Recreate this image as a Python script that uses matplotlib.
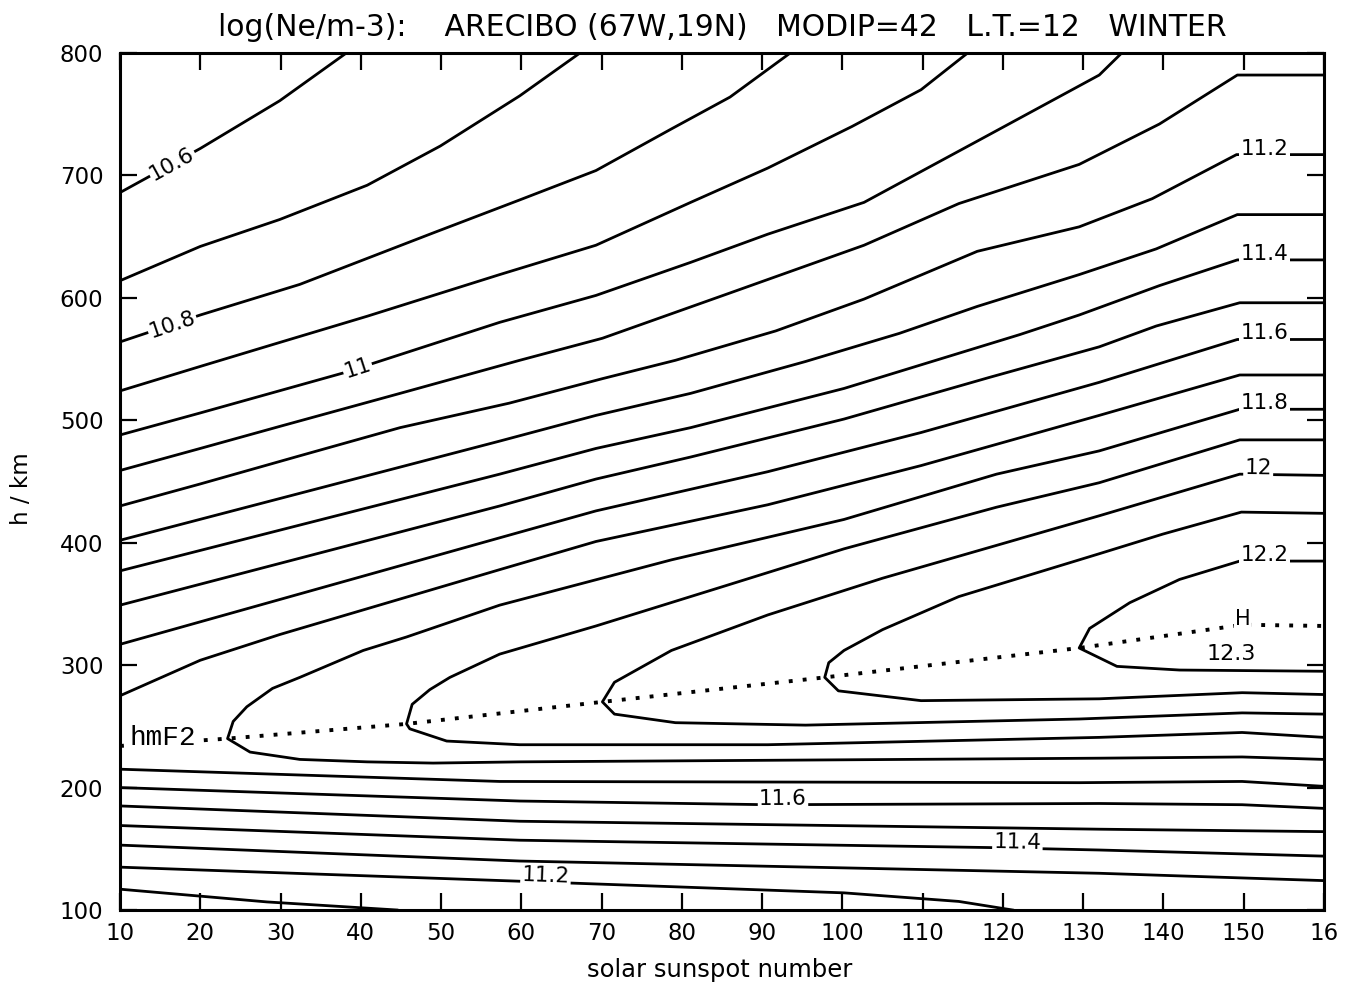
import matplotlib
matplotlib.use("Agg")
import matplotlib.pyplot as plt
import numpy as np

# Isolines of log(Ne/m-3): sunspot number R and height h (km).
# Topside lines (run from the left edge up to the top / right edge).
r_106 = [10, 20, 29.9, 38.2]
h_106 = [686, 722, 761, 800]
r_107 = [10, 20, 29.9, 40.8, 49.9, 59.8, 67.3]
h_107 = [614, 642, 664, 692, 724, 765, 800]
r_108 = [10, 20, 32.4, 49.0, 59.8, 69.3, 78.7, 86.0, 93.5]
h_108 = [564, 586, 611, 653, 680, 704, 738, 764, 800]
r_109 = [10, 20, 29.1, 40.8, 57.3, 69.3, 81.1, 90.7, 101.2, 109.8, 115.6]
h_109 = [524, 544, 562, 585, 619, 643, 678, 706, 740, 770, 800]
r_110 = [10, 20, 38.0, 57.3, 69.3, 81.1, 90.7, 102.7, 116.8, 132.0, 134.8]
h_110 = [488, 506, 539, 580, 602, 629, 652, 678, 728, 782, 800]
r_111 = [10, 20, 29.9, 44.9, 59.8, 70.1, 86.0, 102.7, 114.5, 129.5, 139.5, 149.2, 160]
h_111 = [459, 477, 495, 522, 549, 567, 604, 643, 677, 709, 742, 782, 782]
r_112 = [10, 20, 32.4, 44.9, 58.5, 70.1, 79.2, 91.7, 102.7, 116.8, 129.5, 138.6, 149.1, 160]
h_112 = [430, 448, 471, 494, 514, 534, 549, 573, 599, 638, 658, 681, 717, 717]
r_113 = [10, 57.3, 69.3, 81.1, 95.4, 107.1, 116.8, 129.5, 139.1, 149.2, 160]
h_113 = [402, 483, 504, 522, 548, 571, 593, 619, 640, 668, 668]
r_114 = [10, 57.3, 69.3, 81.1, 100.2, 122.1, 129.5, 139.5, 149.2, 160]
h_114 = [377, 456, 477, 494, 526, 570, 586, 610, 631, 631]
r_115 = [10, 57.3, 69.3, 81.1, 100.2, 118.3, 132.0, 139.1, 149.5, 160]
h_115 = [349, 430, 452, 470, 501, 535, 560, 577, 596, 596]
r_116 = [10, 57.3, 69.3, 90.7, 109.8, 132.0, 149.2, 160]
h_116 = [317, 404, 426, 458, 490, 531, 566, 566]
r_117 = [10, 20, 29.9, 57.3, 69.3, 90.7, 109.8, 132.0, 149.5, 160]
h_117 = [275, 304, 325, 378, 401, 431, 463, 504, 537, 537]

# Closed "nose" lines around the F2 peak: upper and lower branch from the nose.
r_118_up = [23.4, 23.7, 24.1, 25.8, 29.0, 32.4, 40.3, 45.7, 57.3, 78.7, 100.2, 119.2, 132.0, 149.5, 160]
h_118_up = [240, 246, 254, 266, 281, 290, 312, 323, 349, 386, 419, 456, 475, 509, 509]
r_118_lo = [23.4, 26.2, 32.4, 40.8, 49.0, 59.8, 132.0, 149.8, 160]
h_118_lo = [240, 229, 223, 221, 220, 221, 224, 225, 223]
r_119_up = [45.7, 46.4, 48.6, 51.1, 57.3, 69.3, 86.0, 100.2, 119.2, 132.0, 149.5, 160]
h_119_up = [252, 268, 280, 290, 309, 332, 366, 395, 429, 449, 484, 484]
r_119_lo = [45.7, 46.1, 50.7, 59.8, 90.7, 132.0, 149.8, 160]
h_119_lo = [252, 248, 238, 235, 235, 241, 245, 241]
r_120_up = [70.1, 71.6, 78.7, 90.7, 105.0, 132.0, 149.5, 160]
h_120_up = [270, 286, 312, 341, 371, 422, 456, 455]
r_120_lo = [70.1, 71.6, 79.2, 95.4, 129.5, 149.8, 160]
h_120_lo = [270, 260, 253, 251, 256, 261, 260]
r_121_up = [97.8, 98.3, 100.2, 105.0, 114.5, 132.0, 139.9, 149.7, 160]
h_121_up = [290, 302, 312, 329, 356, 391, 407, 425, 424]
r_121_lo = [97.8, 99.5, 109.8, 132.0, 149.8, 160]
h_121_lo = [290, 279, 271, 272.5, 277.5, 276]
r_122_up = [129.5, 130.8, 135.8, 142.0, 149.5, 160]
h_122_up = [314, 330, 351, 370, 385, 385]
r_122_lo = [129.5, 134.2, 142.0, 160]
h_122_lo = [314, 299, 296, 295]

# Bottomside lines.
r_117_b = [10, 57.3, 129.5, 149.8, 160]
h_117_b = [215, 205, 204, 205, 201]
r_116_b = [10, 59.8, 90.7, 132.0, 149.8, 160]
h_116_b = [200, 189, 186, 187, 186, 183]
r_115_b = [10, 59.8, 132.0, 160]
h_115_b = [185, 172.5, 166, 164]
r_114_b = [10, 59.8, 118.3, 132.0, 160]
h_114_b = [169, 157, 151, 149, 144]
r_113_b = [10, 59.8, 132.0, 160]
h_113_b = [153, 140, 130, 124]
r_112_b = [10, 59.8, 100.2, 114.5, 121.2]
h_112_b = [135, 123.5, 114, 107, 100]
r_111_b = [10, 28.3, 44.5]
h_111_b = [117, 106.6, 100]

# Peak height hmF2 (dotted line).
r_hmf2 = [10, 23.4, 45.7, 70.1, 97.8, 129.5, 149.9, 160]
h_hmf2 = [234, 240, 252, 270, 290, 314, 333, 332]

x_ticks = list(range(10, 161, 10))
x_tick_labels = [str(v) for v in range(10, 151, 10)] + ["16"]
y_ticks = list(range(100, 801, 100))

LW = 2.0
W, H = 1349, 989
plt.rcParams["font.family"] = "DejaVu Sans"

fig = plt.figure(figsize=(W / 100, H / 100), dpi=100)
ax = fig.add_axes([120 / W, 1 - 910 / H, (1324 - 120) / W, (910 - 53) / H])
ax.set_xlim(10, 160)
ax.set_ylim(100, 800)

topside = [(r_106, h_106), (r_107, h_107), (r_108, h_108), (r_109, h_109),
           (r_110, h_110), (r_111, h_111), (r_112, h_112), (r_113, h_113),
           (r_114, h_114), (r_115, h_115), (r_116, h_116), (r_117, h_117)]
bottomside = [(r_117_b, h_117_b), (r_116_b, h_116_b), (r_115_b, h_115_b),
              (r_114_b, h_114_b), (r_113_b, h_113_b), (r_112_b, h_112_b),
              (r_111_b, h_111_b)]
noses = [(r_118_up, h_118_up, r_118_lo, h_118_lo),
         (r_119_up, h_119_up, r_119_lo, h_119_lo),
         (r_120_up, h_120_up, r_120_lo, h_120_lo),
         (r_121_up, h_121_up, r_121_lo, h_121_lo),
         (r_122_up, h_122_up, r_122_lo, h_122_lo)]

for r, h in topside + bottomside:
    ax.plot(r, h, color="black", lw=LW, solid_joinstyle="round")
for ru, hu, rl, hl in noses:
    ax.plot(ru[::-1] + rl[1:], hu[::-1] + hl[1:], color="black", lw=LW,
            solid_joinstyle="round")

ax.plot(r_hmf2, h_hmf2, color="black", lw=2.8, linestyle=(0, (1, 2.6)))

bg = dict(facecolor="white", edgecolor="none", pad=1.0)


def inline_label(r, h, at, text, va="center", size=15.5):
    """Put a contour label on the line at sunspot number `at`, following its slope."""
    y = np.interp(at, r, h)
    p0 = ax.transData.transform((at - 1.5, np.interp(at - 1.5, r, h)))
    p1 = ax.transData.transform((at + 1.5, np.interp(at + 1.5, r, h)))
    ang = np.degrees(np.arctan2(p1[1] - p0[1], p1[0] - p0[0]))
    ax.text(at, y, text, rotation=ang, rotation_mode="anchor", ha="center",
            va=va, fontsize=size, bbox=bg, zorder=5)


inline_label(r_106, h_106, 16.5, "10.6")
inline_label(r_108, h_108, 16.5, "10.8")
inline_label(r_110, h_110, 39.6, "11")
inline_label(r_112, h_112, 152.6, "11.2", va="baseline")
inline_label(r_114, h_114, 152.6, "11.4", va="baseline")
inline_label(r_116, h_116, 152.6, "11.6", va="baseline")
inline_label(r_118_up, h_118_up, 152.6, "11.8", va="baseline")
inline_label(r_120_up, h_120_up, 151.8, "12", va="baseline")
inline_label(r_122_up, h_122_up, 152.6, "12.2", va="baseline")
inline_label(r_116_b, h_116_b, 92.6, "11.6", va="baseline")
inline_label(r_114_b, h_114_b, 121.8, "11.4", va="baseline")
inline_label(r_112_b, h_112_b, 63.0, "11.2", va="baseline")

ax.text(149.9, np.interp(149.9, r_hmf2, h_hmf2), "H", ha="center", va="baseline",
        fontsize=15, bbox=dict(facecolor="white", edgecolor="none", pad=0.5), zorder=5)
ax.text(148.5, 309, "12.3", ha="center", va="center", fontsize=16)
ax.text(11.2, np.interp(11.2, r_hmf2, h_hmf2), "hmF2", ha="left", va="baseline",
        fontsize=20, family="Liberation Mono", bbox=bg, zorder=5)

ax.set_xticks(x_ticks)
ax.set_xticklabels(x_tick_labels)
ax.set_yticks(y_ticks)
ax.tick_params(direction="in", length=12, width=1.6, top=True, right=True,
               labelsize=16.5)
ax.tick_params(axis="x", pad=9)
ax.tick_params(axis="y", pad=12)
for sp in ax.spines.values():
    sp.set_linewidth(2.2)

ax.set_xlabel("solar sunspot number", fontsize=17.5)
ax.xaxis.set_label_coords(0.498, -0.056)
ax.set_ylabel("h / km", fontsize=16.5)
ax.yaxis.set_label_coords(-0.072, 0.492)
ax.set_title("log(Ne/m-3):    ARECIBO (67W,19N)   MODIP=42   L.T.=12   WINTER",
             fontsize=21.5, pad=12)

fig.savefig("out.png", dpi=100)
